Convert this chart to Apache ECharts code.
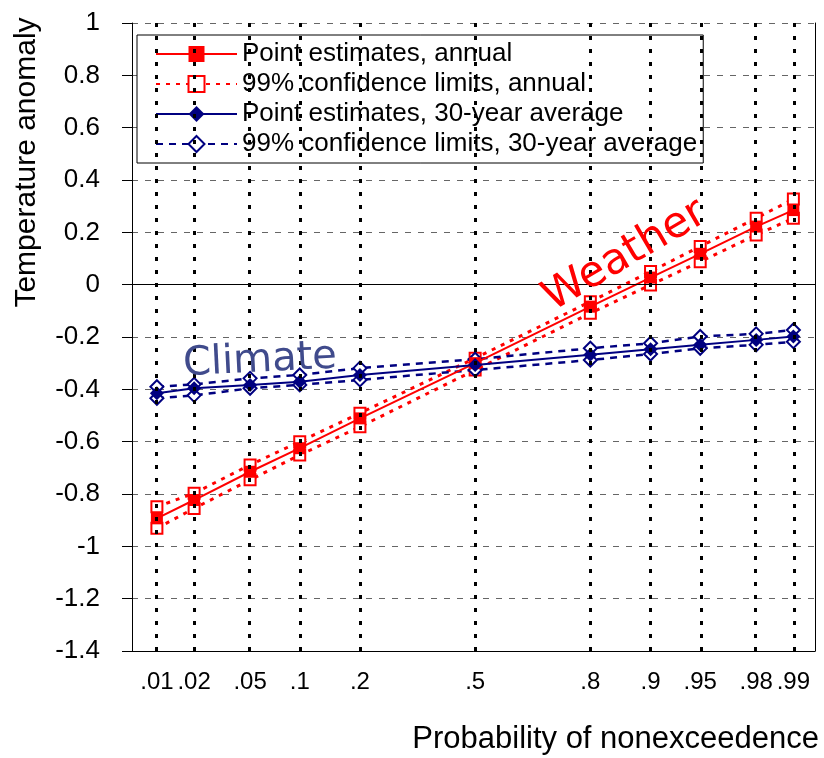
<!DOCTYPE html>
<html>
<head>
<meta charset="utf-8">
<script src="https://cdn.jsdelivr.net/npm/echarts@6/dist/echarts.min.js"></script>
<style>
html,body{margin:0;padding:0;background:#fff;}
#chart{width:824px;height:758px;}
</style>
</head>
<body>
<div id="chart"></div>
<script>
// Probability-scale axis: tick labels and their standard-normal quantiles
const probLabels = ['.01', '.02', '.05', '.1', '.2', '.5', '.8', '.9', '.95', '.98', '.99'];
const probZ = [-2.326, -2.054, -1.645, -1.282, -0.842, 0, 0.842, 1.282, 1.645, 2.054, 2.326];

// Annual series
const annualPoint = [-0.893, -0.823, -0.715, -0.625, -0.511, -0.300, -0.084, 0.027, 0.118, 0.222, 0.285];
const annualUpper = [-0.849, -0.797, -0.689, -0.600, -0.491, -0.281, -0.065, 0.050, 0.146, 0.254, 0.327];
const annualLower = [-0.931, -0.855, -0.746, -0.651, -0.543, -0.326, -0.109, -0.001, 0.088, 0.190, 0.254];

// 30-year average series
const avgPoint = [-0.415, -0.396, -0.383, -0.371, -0.345, -0.307, -0.268, -0.247, -0.230, -0.211, -0.198];
const avgUpper = [-0.390, -0.381, -0.358, -0.345, -0.319, -0.285, -0.243, -0.224, -0.198, -0.188, -0.173];
const avgLower = [-0.434, -0.423, -0.396, -0.383, -0.364, -0.326, -0.288, -0.265, -0.243, -0.230, -0.218];

const yTicksMin = -1.4, yTicksMax = 1, yInterval = 0.2;

const names = {
  ap: 'Point estimates, annual',
  ac: '99% confidence limits, annual',
  vp: 'Point estimates, 30-year average',
  vc: '99% confidence limits, 30-year average'
};

const RED = '#ff0000', NAVY = '#000080';
const FONT = '"Liberation Sans", Arial, sans-serif';

function pairs(vals) { return probZ.map((z, i) => [z, vals[i]]); }

const chart = echarts.init(document.getElementById('chart'), null, { renderer: 'canvas' });

function ciSeries(name, vals, color, symbol, size, dash, width) {
  return {
    type: 'line', name: name, data: pairs(vals), z: 3,
    symbol: symbol, symbolSize: size, showAllSymbol: true,
    lineStyle: { color: color, width: width, type: dash },
    itemStyle: { color: color, borderColor: color, borderWidth: 2 },
    emphasis: { disabled: true }
  };
}
function pointSeries(name, vals, color, symbol, size) {
  return {
    type: 'line', name: name, data: pairs(vals), z: 4,
    symbol: symbol, symbolSize: size, showAllSymbol: true,
    lineStyle: { color: color, width: 2, type: 'solid' },
    itemStyle: { color: color },
    emphasis: { disabled: true }
  };
}

const option = {
  animation: false,
  backgroundColor: '#fff',
  grid: { left: 132, right: 9, top: 23, bottom: 107, containLabel: false },
  xAxis: {
    type: 'value', min: -2.508, max: 2.484,
    axisLine: { show: true, onZero: false, lineStyle: { color: '#000', width: 1 } },
    axisTick: { show: false },
    splitLine: { show: false },
    axisLabel: {
      customValues: probZ,
      margin: 19, fontSize: 24, fontFamily: FONT, color: '#000',
      hideOverlap: false,
      formatter: function (v) {
        const i = probZ.findIndex(z => Math.abs(z - v) < 1e-6);
        return i >= 0 ? probLabels[i] : '';
      }
    },
    name: 'Probability of nonexceedence',
    nameLocation: 'end', nameGap: 4,
    nameTextStyle: { fontSize: 31, fontFamily: FONT, color: '#000', align: 'right', verticalAlign: 'top', padding: [73, 0, 0, 0] }
  },
  yAxis: [{
    type: 'value', min: yTicksMin, max: yTicksMax, interval: yInterval,
    axisLine: { show: true, onZero: false, lineStyle: { color: '#000', width: 1 } },
    axisTick: { show: true, inside: false, length: 10, lineStyle: { color: '#000' } },
    axisLabel: { margin: 32, fontSize: 26, fontFamily: FONT, color: '#000' },
    splitLine: { show: true, lineStyle: { color: '#666', width: 1, type: [6, 7] } }
  }, {
    type: 'value', position: 'right', min: yTicksMin, max: yTicksMax, interval: yInterval,
    axisLine: { show: true, onZero: false, lineStyle: { color: '#000', width: 1 } },
    axisTick: { show: false }, axisLabel: { show: false }, splitLine: { show: false }
  }],
  legend: {
    orient: 'vertical', left: 137, top: 35,
    data: [names.ap, names.ac, names.vp, names.vc],
    itemWidth: 81, itemHeight: 20, itemGap: 0,
    padding: [4, 6, 4, 18],
    backgroundColor: '#fff', borderColor: '#000', borderWidth: 1, borderRadius: 0,
    textStyle: { fontSize: 26, fontFamily: FONT, color: '#000', lineHeight: 30 },
    selectedMode: false
  },
  series: [
    {
      type: 'line', name: 'grid-helper', data: [], z: 1, silent: true,
      markLine: {
        silent: true, symbol: 'none', label: { show: false }, animation: false,
        lineStyle: { color: '#000', width: 3, type: [4, 9] },
        data: probZ.map(z => ({ xAxis: z }))
      }
    },
    {
      type: 'line', name: 'zero-helper', data: [], z: 2, silent: true,
      markLine: {
        silent: true, symbol: 'none', label: { show: false }, animation: false,
        lineStyle: { color: '#000', width: 1, type: 'solid' },
        data: [{ yAxis: 0 }]
      }
    },
    ciSeries(names.ac, annualUpper, RED, 'emptyRect', 11, [4, 6], 3),
    ciSeries(names.ac, annualLower, RED, 'emptyRect', 11, [4, 6], 3),
    pointSeries(names.ap, annualPoint, RED, 'rect', 12),
    ciSeries(names.vc, avgUpper, NAVY, 'emptyDiamond', 13, [7, 6], 2.5),
    ciSeries(names.vc, avgLower, NAVY, 'emptyDiamond', 13, [7, 6], 2.5),
    pointSeries(names.vp, avgPoint, NAVY, 'diamond', 14)
  ],
  graphic: [
    {
      type: 'text', x: 27, y: 162.5, rotation: Math.PI / 2, silent: true,
      style: { text: 'Temperature anomaly', font: '30px ' + FONT, fill: '#000', align: 'center', verticalAlign: 'middle' }
    },
    {
      type: 'text', x: 260, y: 361, rotation: 0.05, silent: true, z: 10,
      style: { text: 'Climate', font: '40px "DejaVu Sans", sans-serif', fill: '#404b8c', align: 'center', verticalAlign: 'middle' }
    },
    {
      type: 'text', x: 625, y: 256, rotation: 0.53, silent: true, z: 10,
      style: { text: 'Weather', font: '43px "DejaVu Sans", sans-serif', fill: '#ff0000', align: 'center', verticalAlign: 'middle' }
    }
  ]
};

chart.setOption(option);
</script>
</body>
</html>
